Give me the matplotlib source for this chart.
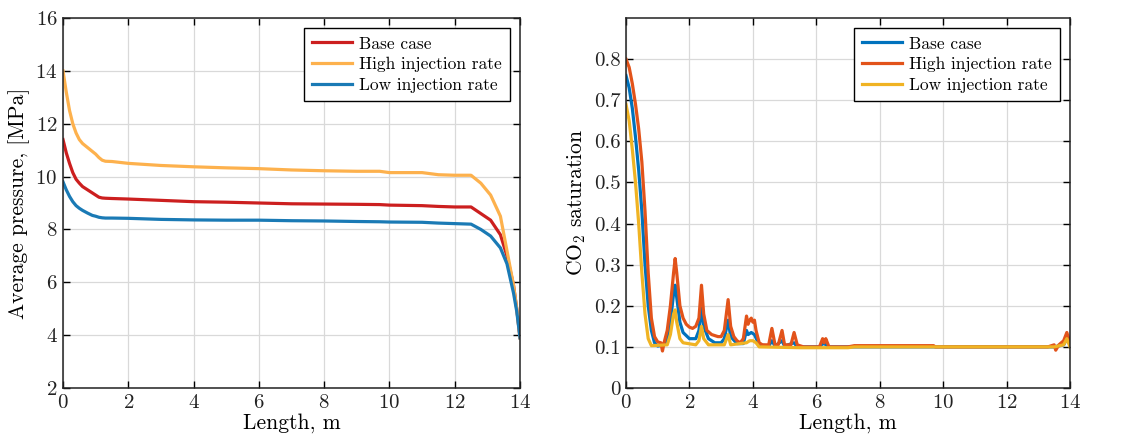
import matplotlib
matplotlib.use("Agg")
import matplotlib.pyplot as plt
import numpy as np

plt.rcParams["font.family"] = "serif"
plt.rcParams["font.serif"] = ["cmr10", "DejaVu Serif"]
plt.rcParams["mathtext.fontset"] = "cm"
plt.rcParams["axes.formatter.use_mathtext"] = True

# ---- left panel: average pressure ----
x_p = [0, 0.1, 0.2, 0.3, 0.4, 0.5, 0.6, 0.75, 0.9, 1.0, 1.1, 1.2, 1.3, 1.5, 2, 3, 4, 5, 6, 7,
       8, 9, 9.7, 10, 11, 11.5, 12, 12.5, 12.8, 13.1, 13.4, 13.6, 13.8, 13.9, 14]
p_base = [11.4, 10.9, 10.5, 10.15, 9.9, 9.75, 9.62, 9.5, 9.38, 9.3, 9.22, 9.19, 9.18, 9.17,
          9.15, 9.1, 9.05, 9.03, 9.0, 8.97, 8.96, 8.95, 8.94, 8.92, 8.9, 8.87, 8.85, 8.85, 8.6,
          8.35, 7.8, 7.0, 5.9, 5.0, 3.9]
p_high = [14.0, 13.2, 12.5, 12.0, 11.65, 11.4, 11.25, 11.1, 10.95, 10.85, 10.72, 10.62, 10.58,
          10.57, 10.5, 10.42, 10.37, 10.33, 10.3, 10.25, 10.22, 10.2, 10.2, 10.15, 10.15, 10.07,
          10.05, 10.05, 9.75, 9.3, 8.5, 7.2, 5.9, 5.0, 3.9]
p_low = [9.8, 9.5, 9.25, 9.05, 8.9, 8.8, 8.72, 8.62, 8.53, 8.5, 8.46, 8.44, 8.43, 8.43, 8.42,
         8.38, 8.36, 8.35, 8.35, 8.33, 8.32, 8.3, 8.29, 8.28, 8.27, 8.24, 8.22, 8.2, 8.0, 7.75,
         7.3, 6.7, 5.6, 4.9, 3.9]

# ---- right panel: CO2 saturation ----
x_hi = [0, 0.1, 0.2, 0.3, 0.4, 0.5, 0.6, 0.7, 0.8, 0.9, 1.0, 1.1, 1.15, 1.2, 1.3, 1.4, 1.5, 1.55,
        1.6, 1.7, 1.8, 1.9, 2.0, 2.1, 2.2, 2.3, 2.38, 2.45, 2.55, 2.7, 2.9, 3.0, 3.1, 3.22, 3.3,
        3.4, 3.5, 3.6, 3.7, 3.8, 3.85, 3.9, 3.95, 4.0, 4.05, 4.1, 4.2, 4.3, 4.5, 4.6, 4.7, 4.8,
        4.92, 5.0, 5.2, 5.3, 5.4, 5.6, 6.0, 6.1, 6.2, 6.25, 6.3, 6.4, 7.0, 7.2, 9.7, 9.75, 13.3,
        13.5, 13.55, 13.65, 13.8, 13.9, 14.0]
s_high = [0.80, 0.78, 0.74, 0.69, 0.63, 0.55, 0.43, 0.28, 0.17, 0.125, 0.112, 0.11, 0.09, 0.11,
          0.14, 0.20, 0.28, 0.315, 0.28, 0.20, 0.17, 0.155, 0.148, 0.145, 0.15, 0.17, 0.25, 0.18,
          0.14, 0.13, 0.125, 0.125, 0.14, 0.215, 0.15, 0.125, 0.115, 0.11, 0.12, 0.175, 0.155,
          0.165, 0.17, 0.16, 0.165, 0.14, 0.11, 0.105, 0.105, 0.145, 0.105, 0.105, 0.14, 0.105,
          0.105, 0.135, 0.105, 0.10, 0.10, 0.10, 0.12, 0.11, 0.12, 0.10, 0.10, 0.103, 0.103, 0.10,
          0.10, 0.105, 0.092, 0.105, 0.115, 0.135, 0.11]

x_base = [0, 0.1, 0.2, 0.3, 0.4, 0.5, 0.6, 0.7, 0.8, 0.9, 1.0, 1.2, 1.3, 1.4, 1.5, 1.55, 1.6,
          1.7, 1.8, 2.0, 2.2, 2.3, 2.38, 2.45, 2.6, 2.8, 3.0, 3.1, 3.22, 3.3, 3.5, 3.7, 3.8, 3.85,
          3.95, 4.05, 4.2, 4.5, 4.6, 4.7, 4.92, 5.0, 5.3, 5.4, 6.1, 6.2, 6.3, 6.4, 13.5, 13.8,
          13.9, 14.0]
s_base = [0.76, 0.73, 0.68, 0.61, 0.53, 0.43, 0.30, 0.20, 0.14, 0.11, 0.102, 0.105, 0.12, 0.16,
          0.23, 0.25, 0.22, 0.16, 0.135, 0.12, 0.12, 0.14, 0.195, 0.15, 0.12, 0.11, 0.11, 0.12,
          0.165, 0.125, 0.108, 0.108, 0.14, 0.13, 0.135, 0.13, 0.105, 0.102, 0.115, 0.102, 0.115,
          0.102, 0.11, 0.10, 0.10, 0.108, 0.106, 0.10, 0.10, 0.105, 0.12, 0.105]

x_low = [0, 0.1, 0.2, 0.3, 0.4, 0.5, 0.6, 0.7, 0.8, 1.3, 1.4, 1.5, 1.55, 1.6, 1.7, 1.8, 2.2, 2.3,
         2.38, 2.45, 2.6, 3.1, 3.22, 3.3, 3.8, 3.9, 4.0, 4.1, 4.2, 5.5, 7.0, 7.2, 13.5, 13.8, 13.9,
         14.0]
s_low = [0.69, 0.65, 0.58, 0.50, 0.40, 0.28, 0.18, 0.12, 0.103, 0.105, 0.13, 0.18, 0.19, 0.16,
         0.12, 0.11, 0.105, 0.115, 0.15, 0.12, 0.105, 0.105, 0.13, 0.105, 0.11, 0.115, 0.115,
         0.11, 0.10, 0.098, 0.098, 0.10, 0.10, 0.105, 0.12, 0.10]

labels = ["Base case", "High injection rate", "Low injection rate"]
x_ticks = [0, 2, 4, 6, 8, 10, 12, 14]
p_ticks = [2, 4, 6, 8, 10, 12, 14, 16]
s_ticks = [0, 0.1, 0.2, 0.3, 0.4, 0.5, 0.6, 0.7, 0.8]
s_ticklabels = ["0", "0.1", "0.2", "0.3", "0.4", "0.5", "0.6", "0.7", "0.8"]

fig = plt.figure(figsize=(11.29, 4.48), dpi=100)
W, H = 1129, 448
ax1 = fig.add_axes([63 / W, 1 - 388 / H, (520 - 63) / W, (388 - 18) / H])
ax2 = fig.add_axes([626 / W, 1 - 388 / H, (1070 - 626) / W, (388 - 18) / H])

lw = 2.3
ax1.plot(x_p, p_base, color="#cc1f1f", lw=lw, label=labels[0])
ax1.plot(x_p, p_high, color="#fdb14d", lw=lw, label=labels[1])
ax1.plot(x_p, p_low, color="#1a7ab5", lw=lw, label=labels[2])
ax1.set_xlim(0, 14)
ax1.set_ylim(2, 16)
ax1.set_yticks(p_ticks)
ax1.set_ylabel("Average pressure, [MPa]", fontsize=15.5, labelpad=4)

ax2.plot(x_base, s_base, color="#0072bd", lw=lw, label=labels[0])
ax2.plot(x_hi, s_high, color="#e2531a", lw=lw, label=labels[1])
ax2.plot(x_low, s_low, color="#f0b323", lw=lw, label=labels[2])
ax2.set_xlim(0, 14)
ax2.set_ylim(0, 0.9)
ax2.set_yticks(s_ticks)
ax2.set_yticklabels(s_ticklabels)
ax2.set_ylabel("CO$_2$ saturation", fontsize=15.5, labelpad=4)

for ax in (ax1, ax2):
    ax.set_xticks(x_ticks)
    ax.set_xlabel("Length, m", fontsize=15.5, labelpad=1)
    ax.grid(True, color="#d9d9d9", lw=0.9)
    ax.set_axisbelow(True)
    ax.tick_params(direction="in", top=True, right=True, labelsize=15, length=5, width=1, pad=4,
                   labelcolor="#222222")
    for sp in ax.spines.values():
        sp.set_linewidth(1.1)
        sp.set_color("#222222")
    leg = ax.legend(loc="upper right", fontsize=12.5, handlelength=2.3, borderpad=0.45,
                    labelspacing=0.32, handletextpad=0.4, fancybox=False, framealpha=1,
                    edgecolor="black", borderaxespad=0.6)
    leg.get_frame().set_linewidth(1.0)

fig.savefig("out.png", dpi=100)
